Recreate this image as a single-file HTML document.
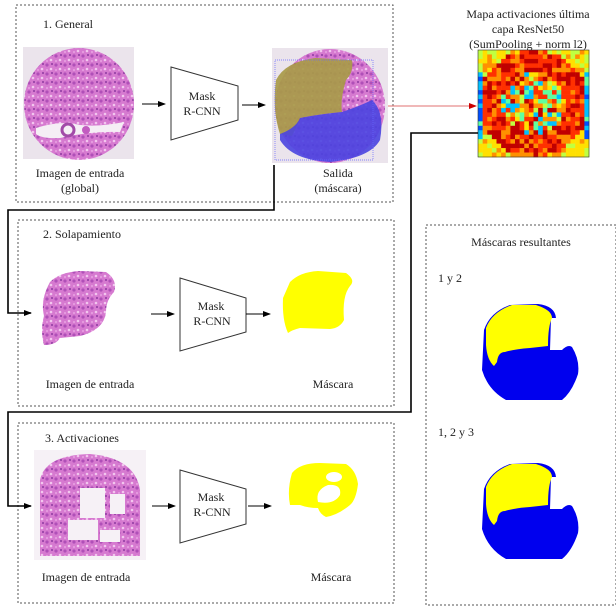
<!DOCTYPE html>
<html><head><meta charset="utf-8"><style>
html,body{margin:0;padding:0;background:#fff;width:616px;height:608px;overflow:hidden}
svg{display:block}
text{font-family:"Liberation Serif",serif;font-size:12px;fill:#222}
</style></head><body>
<svg id="s" width="616" height="608" viewBox="0 0 616 608" xmlns="http://www.w3.org/2000/svg">
<defs>
<marker id="ah" markerWidth="8" markerHeight="8" refX="7" refY="4" orient="auto" markerUnits="userSpaceOnUse"><path d="M0,1 L8,4 L0,7 Z" fill="#000"/></marker>
<marker id="ahr" markerWidth="8" markerHeight="8" refX="7" refY="4" orient="auto" markerUnits="userSpaceOnUse"><path d="M0,1 L8,4 L0,7 Z" fill="#c00"/></marker>
<pattern id="tis" width="9" height="9" patternUnits="userSpaceOnUse">
<rect width="9" height="9" fill="#d67ad0"/><circle cx="2" cy="2" r="1.6" fill="#b04fb8"/><circle cx="6" cy="6" r="1.3" fill="#f2c6ee"/><circle cx="7" cy="1" r="1" fill="#8e3aa0"/><circle cx="2" cy="7" r="1" fill="#e9a3e2"/>
</pattern>
</defs>
<g fill="none" stroke="#555" stroke-width="1" stroke-dasharray="2,2">
<rect x="16" y="5" width="377" height="197"/>
<rect x="18" y="220" width="376" height="186"/>
<rect x="18" y="423" width="376" height="180"/>
<rect x="426" y="225" width="190" height="380"/>
</g>
<text x="43" y="28">1. General</text>
<text x="43" y="238">2. Solapamiento</text>
<text x="45" y="442">3. Activaciones</text>
<rect x="23" y="47" width="111" height="112" fill="#ebe4ec"/>
<ellipse cx="79" cy="104" rx="55" ry="56" fill="url(#tis)"/>
<path d="M36,128 Q60,120 80,125 Q100,127 124,122 L120,132 Q90,131 60,138 Q42,139 36,134 Z" fill="#f5eef5"/>
<circle cx="68" cy="130" r="6" fill="none" stroke="#a24aa8" stroke-width="3"/><circle cx="86" cy="130" r="4" fill="#c25cc0"/>
<line x1="142" y1="104" x2="165" y2="104" stroke="#000" marker-end="url(#ah)"/>
<path d="M171,67 L238,86 L238,120 L171,140 Z" fill="#fff" stroke="#333"/>
<text x="202" y="100" text-anchor="middle">Mask</text><text x="202" y="115" text-anchor="middle">R-CNN</text>
<line x1="242" y1="105" x2="265" y2="105" stroke="#000" marker-end="url(#ah)"/>
<rect x="272" y="48" width="116" height="115" fill="#ebe4ec"/>
<ellipse cx="330" cy="106" rx="55" ry="57" fill="url(#tis)"/>
<path d="M276,80 Q285,62 315,58 L352,60 Q354,72 346,80 Q340,100 342,112 Q320,114 300,118 Q296,128 292,136 L280,134 Q272,110 276,80 Z" fill="#a89a48" opacity="0.92"/>
<path d="M280,134 Q296,128 300,118 Q320,114 342,112 Q360,106 372,100 Q385,112 380,140 Q370,158 330,162 Q292,160 280,140 Z" fill="#4a44e0" opacity="0.9"/>
<rect x="275" y="60" width="98" height="100" fill="none" stroke="#66f" stroke-dasharray="1,1" stroke-width="0.7"/>
<line x1="388" y1="106" x2="476" y2="106" stroke="#e07070" marker-end="url(#ahr)"/>
<text x="80" y="177" text-anchor="middle">Imagen de entrada</text><text x="80" y="192" text-anchor="middle">(global)</text>
<text x="338" y="177" text-anchor="middle">Salida</text><text x="338" y="192" text-anchor="middle">(máscara)</text>
<text x="528" y="18" text-anchor="middle">Mapa activaciones última</text>
<text x="528" y="33" text-anchor="middle">capa ResNet50</text>
<text x="528" y="48" text-anchor="middle">(SumPooling + norm l2)</text>
<g id="hm"></g>
<polyline points="274,165 274,210 8,210 8,313 31,313" fill="none" stroke="#000" stroke-width="1.6" marker-end="url(#ah)"/>
<polyline points="478,133 411,133 411,412 8,412 8,506 31,506" fill="none" stroke="#000" stroke-width="1.6" marker-end="url(#ah)"/>
<path d="M50,282 Q60,272 80,271 L106,272 Q118,280 114,292 Q106,300 106,312 Q104,330 80,336 L60,338 Q56,345 44,345 Q40,330 44,316 Q40,300 50,282 Z" fill="url(#tis)"/>
<line x1="151" y1="314" x2="174" y2="314" stroke="#000" marker-end="url(#ah)"/>
<path d="M180,278 L246,298 L246,332 L180,351 Z" fill="#fff" stroke="#333"/>
<text x="211" y="310" text-anchor="middle">Mask</text><text x="212" y="325" text-anchor="middle">R-CNN</text>
<line x1="246" y1="314" x2="270" y2="314" stroke="#000" marker-end="url(#ah)"/>
<path d="M290,282 Q300,272 318,271 L346,273 Q356,280 350,286 Q342,296 344,320 Q340,328 330,329 L300,328 Q292,330 288,333 Q282,320 283,298 Z" fill="#ffff00"/>
<text x="90" y="388" text-anchor="middle">Imagen de entrada</text>
<text x="333" y="388" text-anchor="middle">Máscara</text>
<rect x="34" y="450" width="112" height="110" fill="#f6f1f6"/>
<path d="M40,480 Q45,455 90,454 Q135,458 140,490 L140,556 L40,556 Z" fill="url(#tis)"/>
<rect x="80" y="488" width="25" height="30" fill="#f6f1f6"/><rect x="110" y="494" width="15" height="20" fill="#f6f1f6"/><rect x="68" y="520" width="30" height="20" fill="#f6f1f6"/><rect x="100" y="530" width="20" height="12" fill="#f6f1f6"/>
<line x1="152" y1="506" x2="175" y2="506" stroke="#000" marker-end="url(#ah)"/>
<path d="M180,470 L246,489 L246,524 L180,543 Z" fill="#fff" stroke="#333"/>
<text x="211" y="501" text-anchor="middle">Mask</text><text x="212" y="516" text-anchor="middle">R-CNN</text>
<line x1="248" y1="506" x2="271" y2="506" stroke="#000" marker-end="url(#ah)"/>
<path d="M292,473 Q300,463 320,463 L346,464 Q356,470 358,484 Q356,500 350,505 Q338,515 326,517 Q320,514 318,508 Q308,508 300,505 L290,505 Q287,490 292,473 Z" fill="#ffff00"/>
<ellipse cx="334" cy="477" rx="8" ry="5" fill="#fff"/><path d="M318,502 Q315,490 328,485 Q342,484 340,495 Q334,505 318,502Z" fill="#fff"/>
<text x="331" y="581" text-anchor="middle">Máscara</text>
<text x="86" y="581" text-anchor="middle">Imagen de entrada</text>
<text x="521" y="246" text-anchor="middle">Máscaras resultantes</text>
<text x="438" y="282">1 y 2</text>
<text x="438" y="436">1, 2 y 3</text>
<g id="m1">
<path d="M484,330 Q490,312 510,305 L538,304 Q555,306 556,318 L551,318 L550,350 L562,350 Q568,344 572,347 Q580,360 578,374 Q572,392 562,400 L506,400 Q488,390 482,370 Z" fill="#0000ee"/>
<path d="M486,328 Q492,312 512,305 L536,305 Q552,310 552,318 Q548,326 548,346 L530,348 Q515,349 505,352 Q498,352 497,362 L494,366 Q487,360 486,345 Z" fill="#ffff00"/>
</g>
<use href="#m1" y="159"/>
</svg>
<script>
(function(){
var g=document.getElementById('hm'),x0=478,y0=50,W=111,H=107,n=24,cw=W/n,ch=H/n,s=7,h='';
function r(){s=(s*9301+49297)%233280;return s/233280}
var pal=['#0000b0','#0050ff','#00c0ff','#60ffa0','#c0ff40','#ffe000','#ff9000','#ff3000','#c00000'];
for(var j=0;j<n;j++)for(var i=0;i<n;i++){
var cx=(i+.5)/n-.5,cy=(j+.5)/n-.5,d=Math.sqrt(cx*cx+cy*cy),v;
if(i<1||i>22)v=(j>4&&j<20)?1+r()*2:4+r();
else if(d>0.5)v=4+r()*2;
else if(d>0.28)v=6+r()*2.5;
else v=r()<0.35?2+r()*2:5+r()*3;
v=Math.max(0,Math.min(8,Math.round(v)));
h+='<rect x="'+(x0+i*cw).toFixed(2)+'" y="'+(y0+j*ch).toFixed(2)+'" width="'+(cw+.3).toFixed(2)+'" height="'+(ch+.3).toFixed(2)+'" fill="'+pal[v]+'"/>';}
h+='<rect x="'+x0+'" y="'+y0+'" width="'+W+'" height="'+H+'" fill="none" stroke="#333" stroke-width="0.6"/>';
g.innerHTML=h;})();
</script>
</body></html>
